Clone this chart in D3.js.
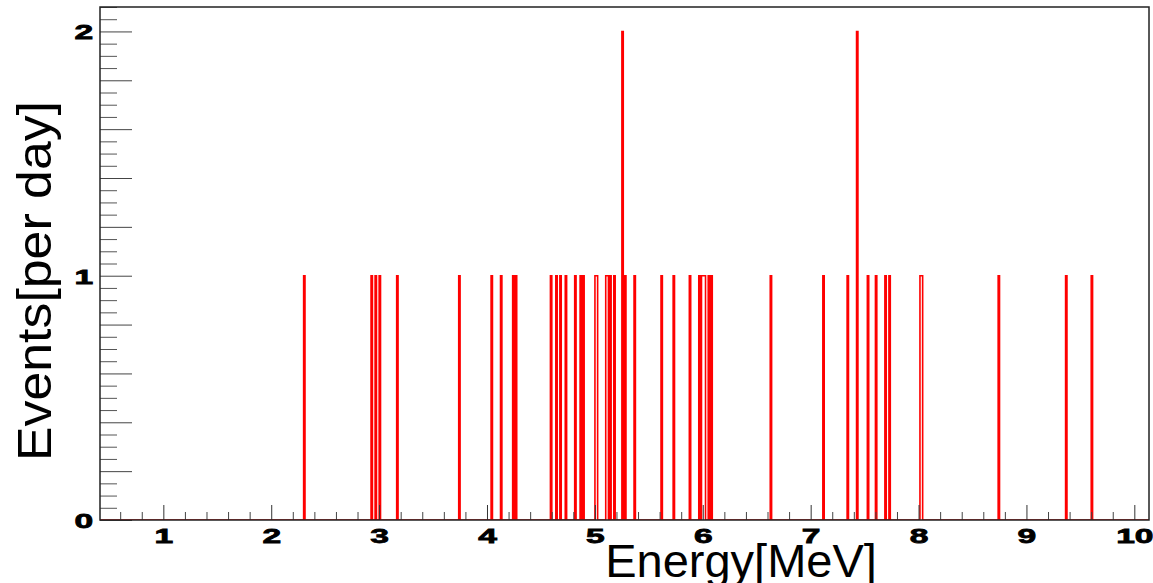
<!DOCTYPE html>
<html>
<head>
<meta charset="utf-8">
<script src="https://cdn.jsdelivr.net/npm/d3@7"></script>
<style>
    body { margin: 0; background: #fff; }
    text { font-family: "Liberation Sans", Arial, sans-serif; }
</style>
</head>
<body>
<div id="chart"></div>
<script>
// Event energies [MeV], one entry per event (repeated value = 2 events in the bin)
var energies = [
    2.310, 2.937, 2.971, 3.008, 3.163, 3.743, 4.044, 4.127, 4.250, 4.275,
    4.593, 4.649, 4.677, 4.732, 4.825, 4.868, 4.899, 5.010, 5.025, 5.103,
    5.122, 5.140, 5.180, 5.256, 5.256, 5.279, 5.372, 5.625, 5.733, 5.882,
    5.974, 5.992, 6.008, 6.020, 6.057, 6.082, 6.632, 7.117, 7.349, 7.436,
    7.436, 7.528, 7.612, 7.689, 7.735, 8.020, 8.033, 8.739, 9.373, 9.610
];
var xRange = [0.413, 10.136],
    yRange = [0, 2.1],
    binWidth = 0.0125;
var xLabels = [1, 2, 3, 4, 5, 6, 7, 8, 9, 10],
    yLabels = [0, 1, 2];
var xTitle = "Energy[MeV]",
    yTitle = "Events[per day]";

var width = 1153, height = 583,
    frame = {left: 100, right: 1149, top: 7, bottom: 520};

var svg = d3.select("#chart").append("svg")
    .attr("width", width)
    .attr("height", height);

var xScale = d3.scaleLinear().domain(xRange).range([frame.left, frame.right]),
    yScale = d3.scaleLinear().domain(yRange).range([frame.bottom, frame.top]);

// histogram the events into fine bins
var thresholds = d3.range(0, Math.ceil((xRange[1] - xRange[0]) / binWidth))
    .map(function(i) { return xRange[0] + i * binWidth; }).slice(1);
var bins = d3.bin()
    .domain(xRange)
    .thresholds(thresholds)(energies);

var steps = bins.map(function(b) { return [b.x0, b.length]; });
steps.push([bins[bins.length - 1].x1, 0]);

svg.append("clipPath").attr("id", "clip")
    .append("rect")
    .attr("x", frame.left).attr("y", frame.top)
    .attr("width", frame.right - frame.left)
    .attr("height", frame.bottom - frame.top);

var line = d3.line()
    .x(function(d) { return xScale(d[0]); })
    .y(function(d) { return yScale(d[1]); })
    .curve(d3.curveStepAfter);

svg.append("path")
    .datum(steps)
    .attr("clip-path", "url(#clip)")
    .attr("d", line)
    .attr("fill", "none")
    .attr("stroke", "#ff0000")
    .attr("stroke-width", 1.6);

// x axis: ticks drawn inside the frame
var xMinor = d3.range(0.6, 10.1, 0.2).filter(function(v) {
    return Math.abs(v - Math.round(v)) > 0.01;
});
svg.append("g")
    .attr("transform", "translate(0," + frame.bottom + ")")
    .call(d3.axisBottom(xScale).tickValues(xMinor).tickSize(-8).tickFormat(""))
    .call(function(g) { g.select(".domain").remove(); })
    .selectAll("line").attr("stroke", "#444");

var xAxisG = svg.append("g")
    .attr("transform", "translate(0," + frame.bottom + ")")
    .call(d3.axisBottom(xScale).tickValues(xLabels).tickSize(-15).tickFormat(d3.format("d")))
    .call(function(g) { g.select(".domain").remove(); });
xAxisG.selectAll("line").attr("stroke", "#333");
xAxisG.selectAll("text")
    .attr("y", 23)
    .attr("dy", null)
    .attr("transform", "scale(1.6,1)")
    .attr("font-size", 21)
    .attr("font-weight", "bold")
    .attr("fill", "#000")
    .attr("stroke", "#000")
    .attr("stroke-width", 0.8);

// y axis
var yMinor = d3.range(0, 2.11, 0.05).filter(function(v) {
    return Math.abs(v / 0.2 - Math.round(v / 0.2)) > 0.01;
});
var yMajor = d3.range(0, 2.01, 0.2);
svg.append("g")
    .attr("transform", "translate(" + frame.left + ",0)")
    .call(d3.axisLeft(yScale).tickValues(yMinor).tickSize(-17).tickFormat(""))
    .call(function(g) { g.select(".domain").remove(); })
    .selectAll("line").attr("stroke", "#555");

var yAxisG = svg.append("g")
    .attr("transform", "translate(" + frame.left + ",0)")
    .call(d3.axisLeft(yScale).tickValues(yMajor).tickSize(-32)
        .tickFormat(function(d) {
            return yLabels.indexOf(Math.round(d * 10) / 10) >= 0 ? d3.format("d")(d) : "";
        }))
    .call(function(g) { g.select(".domain").remove(); });
yAxisG.selectAll("line").attr("stroke", "#444");
yAxisG.selectAll("text")
    .attr("x", -4.2)
    .attr("dy", "0.36em")
    .attr("transform", "scale(1.6,1)")
    .attr("font-size", 21)
    .attr("font-weight", "bold")
    .attr("fill", "#000")
    .attr("stroke", "#000")
    .attr("stroke-width", 0.8);

// frame
svg.append("rect")
    .attr("x", frame.left).attr("y", frame.top)
    .attr("width", frame.right - frame.left)
    .attr("height", frame.bottom - frame.top)
    .attr("fill", "none")
    .attr("stroke", "#222")
    .attr("stroke-width", 1.5);

// titles
svg.append("text")
    .attr("x", 741)
    .attr("y", 577)
    .attr("text-anchor", "middle")
    .attr("font-size", 47)
    .text(xTitle);

svg.append("text")
    .attr("transform", "translate(51,281) rotate(-90)")
    .attr("text-anchor", "middle")
    .attr("font-size", 49)
    .attr("textLength", 360)
    .attr("lengthAdjust", "spacingAndGlyphs")
    .text(yTitle);
</script>
</body>
</html>
